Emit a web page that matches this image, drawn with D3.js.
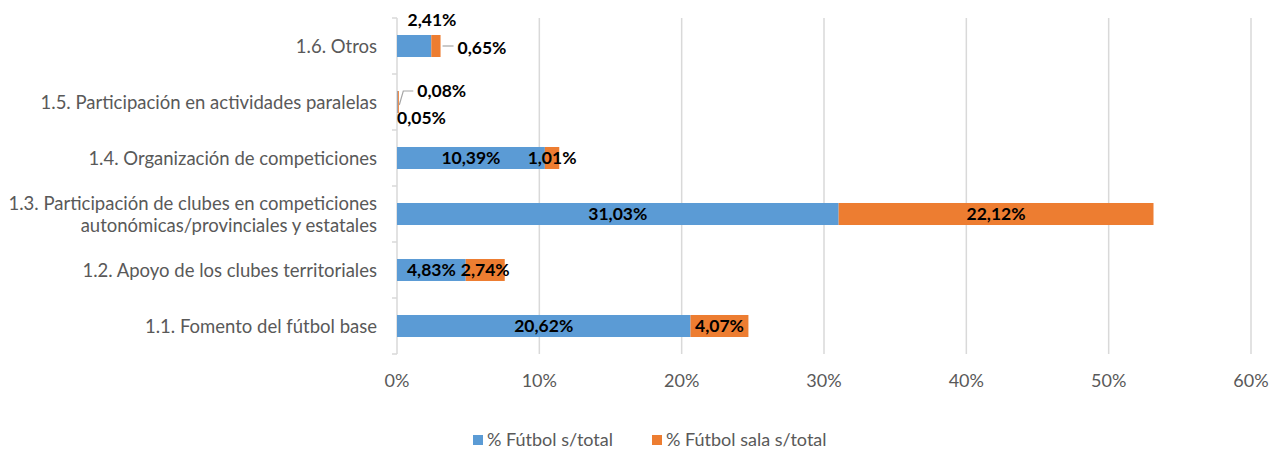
<!DOCTYPE html>
<html>
<head>
  <meta charset="utf-8">
  <script src="https://d3js.org/d3.v7.min.js"></script>
  <style>
    body { margin: 0; background: #fff; }
    * { font-family: Lato, "Noto Sans", sans-serif; }
    .cat { font-size: 18.5px; fill: #595959; text-anchor: end; }
    .tick-label { font-size: 18px; fill: #595959; text-anchor: middle; }
    .val { font-size: 17.5px; font-weight: bold; fill: #000; }
    .legend { font-size: 18px; fill: #595959; }
  </style>
</head>
<body>
  <div id="chart"></div>
  <script>
    var width = 1281;
    var height = 450;

    // categories, top to bottom
    var categories = [
      "1.6. Otros",
      "1.5. Participación en actividades paralelas",
      "1.4. Organización de competiciones",
      "1.3. Participación de clubes en competiciones|autonómicas/provinciales y estatales",
      "1.2. Apoyo de los clubes territoriales",
      "1.1. Fomento del fútbol base"
    ];
    var futbol = [2.41, 0.05, 10.39, 31.03, 4.83, 20.62];
    var futbolSala = [0.65, 0.08, 1.01, 22.12, 2.74, 4.07];
    var seriesNames = ["% Fútbol s/total", "% Fútbol sala s/total"];
    var xTicks = [0, 10, 20, 30, 40, 50, 60];

    var colors = ["#5B9BD5", "#ED7D31"];

    var svg = d3.select("#chart").append("svg")
      .attr("width", width)
      .attr("height", height);

    var x = d3.scaleLinear().domain([0, 60]).range([397, 1251]);
    var y = d3.scaleBand().domain(categories).range([18, 354]).padding(0);
    var barH = y.bandwidth() * 0.393;

    function fmt(v) {
      return v.toFixed(2).replace(".", ",") + "%";
    }

    // gridlines
    svg.selectAll(".grid")
      .data(xTicks.slice(1))
      .enter().append("line")
      .attr("x1", function(d) { return x(d); })
      .attr("x2", function(d) { return x(d); })
      .attr("y1", 18)
      .attr("y2", 354)
      .attr("stroke", "#d9d9d9")
      .attr("stroke-width", 1.5);

    // category axis line + tick marks
    svg.append("line")
      .attr("x1", x(0)).attr("x2", x(0))
      .attr("y1", 18).attr("y2", 354)
      .attr("stroke", "#d9d9d9").attr("stroke-width", 1.5);

    var bounds = categories.map(function(c) { return y(c); }).concat([354]);
    svg.selectAll(".ytick")
      .data(bounds)
      .enter().append("line")
      .attr("x1", x(0) - 5).attr("x2", x(0))
      .attr("y1", function(d) { return d; })
      .attr("y2", function(d) { return d; })
      .attr("stroke", "#d9d9d9").attr("stroke-width", 1.5);

    // x tick labels
    svg.selectAll(".tick-label")
      .data(xTicks)
      .enter().append("text")
      .attr("class", "tick-label")
      .attr("x", function(d) { return x(d); })
      .attr("y", 387)
      .text(function(d) { return d + "%"; });

    // category labels
    categories.forEach(function(c) {
      var lines = c.split("|");
      var cy = y(c) + y.bandwidth() / 2;
      var t = svg.append("text").attr("class", "cat");
      lines.forEach(function(l, i) {
        t.append("tspan")
          .attr("x", 377)
          .attr("y", cy + 6.5 + (i - (lines.length - 1) / 2) * 22)
          .text(l);
      });
    });

    // stacked bars
    var rows = categories.map(function(c, i) {
      return { cat: c, vals: [futbol[i], futbolSala[i]] };
    });

    rows.forEach(function(r) {
      var x0 = 0;
      var cy = y(r.cat) + y.bandwidth() / 2;
      r.vals.forEach(function(v, si) {
        svg.append("rect")
          .attr("x", x(x0))
          .attr("y", cy - barH / 2)
          .attr("width", x(v) - x(0))
          .attr("height", barH)
          .attr("fill", colors[si]);
        r["start" + si] = x0;
        x0 += v;
      });
      r.total = x0;
    });

    // data labels
    rows.forEach(function(r, ri) {
      var cy = y(r.cat) + y.bandwidth() / 2;
      r.vals.forEach(function(v, si) {
        var mid = x(r["start" + si] + v / 2);
        var lx = mid, ly = cy + 6, anchor = "middle";
        if (ri === 0 && si === 0) {
          lx = 432; ly = cy - 20;
        } else if (ri === 0 && si === 1) {
          var ex = x(r.total);
          svg.append("line")
            .attr("x1", ex + 2).attr("x2", ex + 13)
            .attr("y1", cy).attr("y2", cy)
            .attr("stroke", "#a6a6a6").attr("stroke-width", 1.2);
          lx = ex + 17; ly = cy + 8; anchor = "start";
        } else if (ri === 1 && si === 0) {
          lx = x(0); ly = cy + 22; anchor = "start";
        } else if (ri === 1 && si === 1) {
          svg.append("path")
            .attr("d", "M" + (mid + 1) + "," + (cy + 3) + "L" + (mid + 5) + "," + (cy - 11) + "L" + (mid + 15) + "," + (cy - 11))
            .attr("fill", "none")
            .attr("stroke", "#a6a6a6").attr("stroke-width", 1.2);
          lx = mid + 19; ly = cy - 5; anchor = "start";
        }
        svg.append("text")
          .attr("class", "val")
          .attr("x", lx)
          .attr("y", ly)
          .attr("text-anchor", anchor)
          .text(fmt(v));
      });
    });

    // legend
    var legendX = [473, 652];
    seriesNames.forEach(function(n, i) {
      svg.append("rect")
        .attr("x", legendX[i]).attr("y", 435)
        .attr("width", 10).attr("height", 10)
        .attr("fill", colors[i]);
      svg.append("text")
        .attr("class", "legend")
        .attr("x", legendX[i] + 14).attr("y", 446)
        .text(n);
    });
  </script>
</body>
</html>
